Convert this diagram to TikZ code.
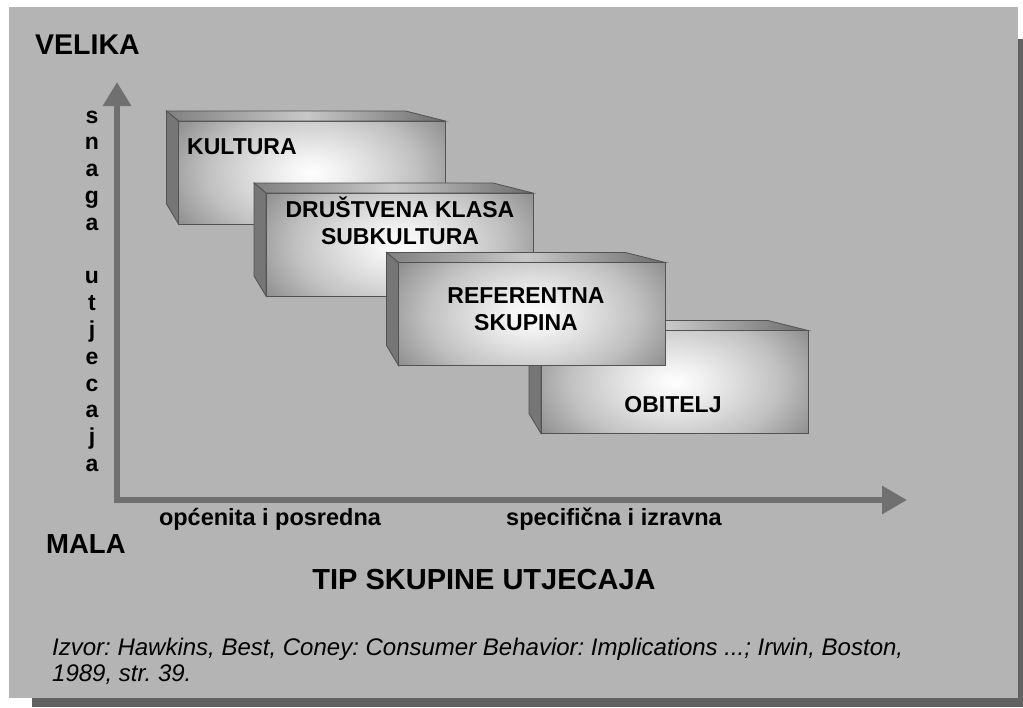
\documentclass[tikz,border=0pt]{standalone}
\usepackage{fontspec}
\setmainfont{Liberation Sans}
\usepackage{xcolor}
\usepackage{tikz}
\usetikzlibrary{calc}
\usetikzlibrary{positioning, arrows.meta}
\frenchspacing

\definecolor{panelgray}{RGB}{180,180,180}
\definecolor{shadowgray}{RGB}{98,98,98}
\definecolor{axisgray}{RGB}{112,112,112}
\definecolor{boxedge}{RGB}{82,82,82}
\definecolor{boxdark}{RGB}{104,104,104}
\definecolor{boxside}{RGB}{118,118,118}
\definecolor{topl}{RGB}{128,128,128}
\definecolor{topm}{RGB}{200,200,200}
\definecolor{topr}{RGB}{108,108,108}
\definecolor{glowa}{RGB}{242,242,242}
\definecolor{glowb}{RGB}{218,218,218}
\definecolor{glowc}{RGB}{192,192,192}
\definecolor{glowd}{RGB}{142,142,142}

\pgfdeclareradialshading{boxglow}{\pgfpoint{0bp}{0bp}}{color(0bp)=(white); color(4bp)=(glowa); color(10bp)=(glowb); color(16bp)=(glowc); color(24bp)=(glowd); color(32bp)=(boxdark); color(80bp)=(boxdark)}

\begin{document}
\begin{tikzpicture}[x=1pt,y=-1pt,
                    face/.style={rectangle,minimum width=267pt,minimum height=103pt,inner sep=0pt,outer sep=0pt,
                      draw=boxedge,line width=0.8pt,
                      path picture={\shade[shading=boxglow] ($(path picture bounding box.center)+(-165,-100)$) rectangle ($(path picture bounding box.center)+(165,100)$);}},
                    topface/.style={draw=boxedge,line width=0.8pt,left color=topl,right color=topr,middle color=topm},
                    sideface/.style={draw=boxedge,line width=0.8pt,fill=boxside},
                    boxlabel/.style={font=\fontsize{23}{27}\selectfont\bfseries,align=center,inner sep=0pt},
                    axis/.style={draw=axisgray,line width=6pt,line join=miter,
                      {Triangle[length=24pt,width=27pt]}-{Triangle[length=25pt,width=27pt]}},
                    letter/.style={font=\fontsize{23}{23}\selectfont\bfseries,inner sep=0pt,anchor=base}]

  \useasboundingbox (0,0) rectangle (1023,707);
  \fill[shadowgray] (32,39) rectangle (1023,707);
  \fill[panelgray] (9,7) rectangle (1018,698);

  % axes
  \coordinate (origin) at (117,500);
  \coordinate (ytip) at (117,82);
  \coordinate (xtip) at (907,500);
  \draw[axis] (ytip) -- (origin) -- (xtip);

  \foreach \ch/\i in {s/0,n/1,a/2,g/3,a/4,u/6,t/7,j/8,e/9,c/10,a/11,j/12,a/13}
    \node[letter] (l\i) at (92,123+26.8*\i) {\ch};

  % boxes (3 sits in front of 4)
  \node[face] (1) at (312,172.5) {};
  \path[topface] (1.north west) -- ++(-12,-10) -- ($(1.north east)+(-40,-10)$) -- (1.north east) -- cycle;
  \path[sideface] (1.north west) -- ++(-12,-10) -- ++(0,93) -- (1.south west) -- cycle;

  \node[face] (2) at (399.5,244.5) {};
  \path[topface] (2.north west) -- ++(-12,-10) -- ($(2.north east)+(-40,-10)$) -- (2.north east) -- cycle;
  \path[sideface] (2.north west) -- ++(-12,-10) -- ++(0,93) -- (2.south west) -- cycle;

  \node[face] (4) at (674.5,382) {};
  \path[topface] (4.north west) -- ++(-12,-10) -- ($(4.north east)+(-40,-10)$) -- (4.north east) -- cycle;
  \path[sideface] (4.north west) -- ++(-12,-10) -- ++(0,93) -- (4.south west) -- cycle;

  \node[face] (3) at (532,314) {};
  \path[topface] (3.north west) -- ++(-12,-10) -- ($(3.north east)+(-40,-10)$) -- (3.north east) -- cycle;
  \path[sideface] (3.north west) -- ++(-12,-10) -- ++(0,93) -- (3.south west) -- cycle;

  \node[boxlabel,anchor=base west] (t1) at (187,154) {KULTURA};
  \node[boxlabel,anchor=base] (t2) at (400,244) {DRUŠTVENA KLASA\\SUBKULTURA};
  \node[boxlabel,anchor=base] (t3) at (526,330) {REFERENTNA\\SKUPINA};
  \node[boxlabel,anchor=base] (t4) at (673,412) {OBITELJ};

  % labels
  \node[font=\fontsize{28.5}{30}\selectfont\bfseries,inner sep=0pt,anchor=base west] (velika) at (35,54) {VELIKA};
  \node[font=\fontsize{27.5}{30}\selectfont\bfseries,inner sep=0pt,anchor=base west] (mala) at (46,553) {MALA};
  \node[font=\fontsize{23.5}{26}\selectfont\bfseries,inner sep=0pt,anchor=base] (opca) at (270,525) {općenita i posredna};
  \node[font=\fontsize{23.5}{26}\selectfont\bfseries,inner sep=0pt,anchor=base] (spec) at (614,525) {specifična i izravna};
  \node[font=\fontsize{29}{32}\selectfont\bfseries,inner sep=0pt,anchor=base] (tip) at (484,589) {TIP SKUPINE UTJECAJA};
  \node[font=\fontsize{24}{27}\selectfont\itshape,inner sep=0pt,anchor=base west] (izvor) at (52,655)
    {Izvor: Hawkins, Best, Coney: Consumer Behavior: Implications ...; Irwin, Boston,};
  \node[font=\fontsize{24}{27}\selectfont\itshape,inner sep=0pt,anchor=base west] (izvor2) at (52,681)
    {1989, str. 39.};

\end{tikzpicture}
\end{document}
